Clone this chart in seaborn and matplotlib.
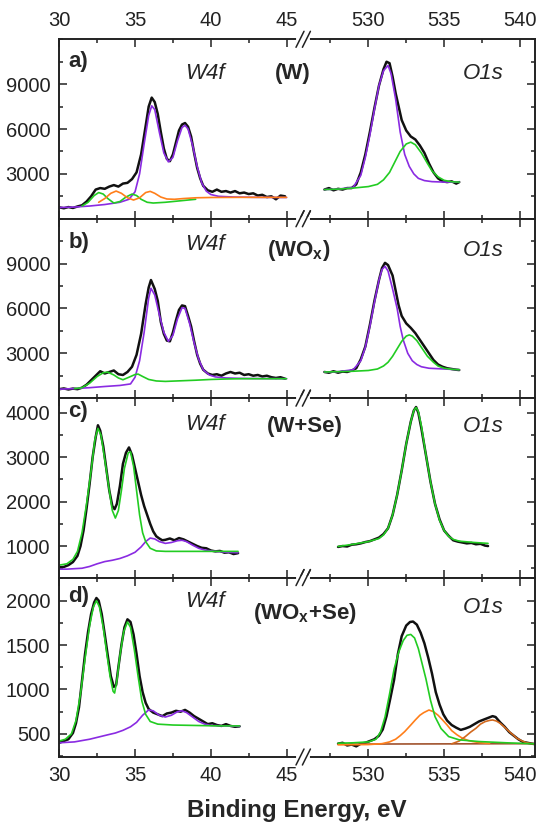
import numpy as np
import pandas as pd
import matplotlib
matplotlib.use("Agg")
import matplotlib.pyplot as plt
import seaborn as sns
from matplotlib.ticker import FixedLocator, MultipleLocator

sns.set_style("ticks")
plt.rcParams['font.family'] = ['Liberation Sans', 'DejaVu Sans']
plt.rcParams['mathtext.fontset'] = 'custom'
plt.rcParams['mathtext.rm'] = 'Liberation Sans'
plt.rcParams['mathtext.bf'] = 'Liberation Sans:bold'
plt.rcParams['mathtext.it'] = 'Liberation Sans:italic'

# ---------------- data (binding energy, eV ; intensity, counts) ----------------
# Panel a) W : W4f region
a_w_x = [30.0,30.3,30.6,30.9,31.2,31.5,31.8,32.1,32.4,32.7,33.0,33.3,33.6,33.9,34.2,34.5,34.8,35.1,35.4,35.7,
         35.9,36.1,36.3,36.5,36.7,36.9,37.1,37.3,37.5,37.7,37.9,38.1,38.3,38.5,38.7,38.9,39.1,39.3,39.5,39.8,
         40.1,40.4,40.7,41.0,41.3,41.6,41.9,42.2,42.5,42.8,43.1,43.4,43.7,44.0,44.3,44.6,44.9]
a_w_data = [760,700,780,720,820,900,1150,1500,1950,2050,2000,2150,2250,2150,2350,2400,2650,3100,4300,6200,
            7500,8100,7800,7000,5800,4700,4000,3850,4300,5100,5900,6300,6400,6150,5500,4400,3400,2700,2200,1900,
            1800,1950,1800,1850,1750,1850,1700,1750,1650,1700,1550,1600,1450,1500,1300,1550,1500]
a_w_purple_x = [30.0,31.0,32.0,33.0,34.0,34.6,35.0,35.3,35.6,35.9,36.1,36.3,36.6,36.9,37.2,37.5,37.8,38.1,38.3,
                38.5,38.8,39.1,39.4,39.7,40.0,40.5,41.5,43.0,45.0]
a_w_purple = [750,780,850,950,1100,1300,1800,3000,5000,6900,7550,7300,5800,4400,3800,4100,5200,6100,6250,
              6000,4900,3500,2400,1850,1620,1500,1450,1430,1420]
a_w_green_x = [31.5,31.9,32.3,32.6,32.9,33.2,33.6,34.0,34.4,34.8,35.1,35.4,35.8,36.2,37.0,38.0,39.0]
a_w_green = [850,1100,1550,1750,1650,1350,1050,1150,1450,1650,1550,1300,1100,1050,1100,1200,1300]
a_w_orange_x = [32.6,33.0,33.4,33.75,34.1,34.5,34.9,35.3,35.7,36.0,36.3,36.7,37.1,37.6,38.2,39.0,40.0,42.0,45.0]
a_w_orange = [1100,1350,1700,1850,1700,1400,1250,1400,1750,1830,1700,1450,1320,1300,1350,1400,1420,1430,1430]
# Panel a) W : O1s region
a_o_x = [527.1,527.4,527.7,528.0,528.3,528.6,528.9,529.2,529.5,529.8,530.1,530.4,530.7,531.0,531.2,531.4,531.6,
         531.8,532.0,532.2,532.5,532.8,533.1,533.4,533.7,534.0,534.3,534.6,534.9,535.2,535.5,535.8,536.0]
a_o_data = [1950,2050,1900,2000,1950,2050,2050,2300,3100,4300,5800,7400,8900,10000,10500,10400,9500,
            8400,7500,6600,5900,5500,5300,4900,4400,3700,3100,2700,2500,2450,2500,2350,2450]
a_o_purple_x = [527.1,528.0,529.0,529.5,529.8,530.1,530.4,530.7,531.0,531.3,531.5,531.8,532.1,532.4,532.7,
                533.0,533.3,533.7,534.2,535.0,536.0]
a_o_purple = [1950,1980,2100,2900,4100,5600,7300,8900,9900,10250,9700,8000,5800,4300,3500,3000,2700,2550,
              2480,2450,2450]
a_o_green_x = [527.1,528.0,529.0,530.0,530.6,531.0,531.4,531.8,532.1,532.5,532.8,533.1,533.5,533.9,534.2,
               534.6,535.0,535.5,536.0]
a_o_green = [1950,1980,2050,2150,2300,2600,3100,3900,4500,5000,5120,4950,4400,3700,3200,2800,2570,2470,2450]

# Panel b) WOx : W4f region
b_w_x = [30.0,30.3,30.6,30.9,31.2,31.5,31.8,32.1,32.4,32.7,33.0,33.3,33.6,33.9,34.2,34.5,34.8,35.1,35.4,35.7,
         35.9,36.05,36.3,36.5,36.7,36.9,37.1,37.3,37.5,37.7,37.9,38.1,38.3,38.5,38.7,38.9,39.1,39.3,39.5,39.8,
         40.1,40.4,40.7,41.0,41.3,41.6,41.9,42.2,42.5,42.8,43.1,43.4,43.7,44.0,44.3,44.6,44.9]
b_w_data = [600,650,580,640,600,700,900,1200,1500,1800,1650,1750,1850,1600,1550,1750,2100,2900,4300,6300,
            7400,7900,7300,6500,5100,4300,3850,3800,4400,5200,5900,6200,6150,5500,4800,3800,2900,2300,1900,1650,
            1550,1600,1500,1650,1750,1650,1700,1550,1600,1500,1550,1450,1500,1400,1350,1400,1300]
b_w_purple_x = [30.0,31.0,32.0,33.0,34.0,34.7,35.0,35.3,35.6,35.9,36.05,36.3,36.6,36.9,37.2,37.5,37.8,38.1,
                38.3,38.6,38.9,39.2,39.5,39.9,40.3,41.0,42.0,43.0,45.0]
b_w_purple = [600,640,700,780,850,950,1400,2500,4400,6700,7350,6900,5600,4400,3800,4200,5300,6050,
              6000,5000,3700,2600,1900,1550,1420,1350,1320,1310,1300]
b_w_green_x = [31.0,31.5,32.0,32.5,32.9,33.2,33.6,33.9,34.2,34.6,35.0,35.2,35.5,35.9,36.4,37.0,38.0,39.0,
               40.0,41.0,42.0,43.0,45.0]
b_w_green = [640,700,1000,1450,1700,1740,1550,1350,1230,1400,1580,1610,1450,1250,1150,1120,1160,1200,
             1250,1280,1300,1300,1300]
# Panel b) WOx : O1s region
b_o_x = [527.1,527.4,527.7,528.0,528.3,528.6,528.9,529.2,529.5,529.8,530.1,530.4,530.7,530.9,531.1,531.3,531.6,
         531.8,532.0,532.2,532.5,532.8,533.1,533.4,533.7,534.0,534.3,534.6,534.9,535.2,535.5,535.8,536.0]
b_o_data = [1750,1700,1800,1700,1780,1750,1850,2000,2600,3450,4900,6500,7900,8700,9050,8900,8200,
            7200,6200,5500,5000,4700,4350,3900,3450,3000,2550,2250,2100,2000,1950,1900,1880]
b_o_purple_x = [527.1,528.0,529.0,529.5,529.8,530.1,530.4,530.7,530.9,531.1,531.3,531.6,531.9,532.1,532.3,
                532.6,532.9,533.2,533.5,534.0,535.0,536.0]
b_o_purple = [1750,1770,1900,2500,3400,4800,6400,7900,8600,8820,8500,7300,6000,4800,3900,3000,2500,2250,
              2100,2000,1950,1900]
b_o_green_x = [527.1,528.0,529.0,530.0,530.6,531.0,531.3,531.6,531.9,532.2,532.5,532.7,532.9,533.2,533.5,
               533.9,534.3,534.6,535.0,535.5,536.0]
b_o_green = [1750,1770,1800,1850,1950,2150,2400,2800,3300,3800,4150,4230,4150,3850,3400,2800,2400,2150,
             2000,1930,1900]

# Panel c) W+Se : W4f region
c_w_x = [30.0,30.3,30.6,30.9,31.2,31.4,31.6,31.8,32.0,32.2,32.4,32.55,32.7,32.9,33.1,33.3,33.5,33.65,33.8,34.0,
         34.2,34.4,34.6,34.8,35.0,35.2,35.4,35.6,35.8,36.0,36.2,36.4,36.6,36.8,37.0,37.3,37.6,37.9,38.2,38.5,
         38.8,39.1,39.4,39.7,40.0,40.3,40.6,40.9,41.2,41.5,41.8]
c_w_data = [520,530,570,640,780,1000,1350,1850,2400,3000,3450,3720,3600,3250,2750,2250,1900,1830,1950,2350,
            2850,3100,3220,3050,2750,2450,2150,1900,1700,1500,1330,1220,1170,1130,1140,1170,1130,1180,1150,1100,
            1050,1000,960,950,900,880,890,850,860,820,840]
c_w_green_x = [30.0,30.5,30.9,31.2,31.5,31.8,32.1,32.35,32.55,32.75,33.0,33.3,33.5,33.7,33.9,34.1,34.3,34.55,
               34.7,34.9,35.1,35.3,35.5,35.7,36.0,36.4,37.0,38.0,39.0,40.0,41.0,41.8]
c_w_green = [570,600,700,880,1300,1950,2700,3400,3650,3500,2950,2250,1800,1630,1800,2250,2750,3100,
             3120,2800,2250,1700,1300,1100,950,890,880,880,880,880,880,880]
c_w_purple_x = [30.0,30.5,31.0,31.5,32.0,32.5,33.0,33.5,34.0,34.5,35.0,35.4,35.7,36.0,36.3,36.6,37.0,37.4,
                37.8,38.1,38.4,38.8,39.2,39.6,40.0,41.0,41.8]
c_w_purple = [480,480,490,500,540,600,650,680,720,780,860,980,1100,1180,1160,1100,1060,1080,
              1120,1130,1100,1020,950,910,890,860,850]
# Panel c) W+Se : O1s region
c_o_x = [528.0,528.3,528.6,528.9,529.2,529.5,529.8,530.1,530.4,530.7,531.0,531.3,531.6,531.9,532.2,532.5,532.8,
         533.0,533.15,533.3,533.5,533.8,534.1,534.4,534.7,535.0,535.3,535.6,535.9,536.2,536.5,536.8,537.1,537.4,
         537.7,537.9]
c_o_data = [980,1000,990,1030,1040,1060,1090,1110,1150,1190,1270,1400,1700,2150,2700,3300,3800,
            4050,4130,4000,3650,3050,2450,1950,1600,1350,1230,1130,1100,1080,1060,1070,1040,1050,
            1010,1000]
c_o_green_x = [528.0,529.0,530.0,530.7,531.0,531.3,531.6,531.9,532.2,532.5,532.8,533.0,533.15,533.3,533.5,
               533.8,534.1,534.4,534.7,535.0,535.3,535.6,536.0,537.0,537.9]
c_o_green = [990,1040,1100,1170,1250,1400,1700,2150,2700,3300,3800,4050,4120,4030,3700,
             3050,2450,1950,1580,1350,1220,1150,1110,1080,1060]

# Panel d) WOx+Se : W4f region
d_w_x = [30.0,30.3,30.6,30.9,31.1,31.3,31.5,31.7,31.9,32.1,32.3,32.45,32.6,32.8,33.0,33.2,33.4,33.6,33.75,33.9,
         34.1,34.3,34.5,34.7,34.9,35.1,35.3,35.5,35.7,35.9,36.2,36.5,36.8,37.1,37.4,37.7,38.0,38.3,38.6,38.9,
         39.2,39.5,39.8,40.1,40.4,40.7,41.0,41.3,41.6,41.9]
d_w_data = [400,420,440,510,620,800,1100,1400,1650,1850,1980,2030,2000,1850,1620,1380,1150,1030,1050,1250,
            1500,1700,1790,1760,1620,1400,1150,970,850,780,740,720,700,730,740,760,750,770,740,700,
            670,640,610,620,600,590,610,590,580,585]
d_w_green_x = [30.0,30.4,30.8,31.1,31.4,31.7,32.0,32.25,32.45,32.65,32.9,33.1,33.35,33.55,33.65,33.8,34.0,
               34.25,34.5,34.7,34.95,35.2,35.45,35.7,36.0,36.5,37.5,39.0,40.5,41.9]
d_w_green = [420,440,500,650,950,1350,1720,1930,2000,1930,1700,1450,1150,980,960,1100,1380,
             1650,1760,1700,1450,1150,870,720,640,610,600,595,590,590]
d_w_purple_x = [30.0,31.0,32.0,32.6,33.2,33.7,34.2,34.7,35.1,35.5,35.9,36.2,36.6,37.0,37.4,37.8,38.1,38.4,
                38.8,39.2,39.6,40.0,41.0,41.9]
d_w_purple = [400,410,440,465,490,510,540,580,630,710,770,760,710,690,710,750,760,740,
              690,640,610,595,590,585]
# Panel d) WOx+Se : O1s region
d_o_x = [528.0,528.3,528.6,528.9,529.2,529.5,529.8,530.1,530.4,530.7,530.95,531.2,531.45,531.7,531.95,532.2,
         532.5,532.75,532.95,533.2,533.45,533.7,533.95,534.2,534.45,534.7,534.95,535.2,535.5,535.8,536.1,536.4,
         536.7,537.0,537.3,537.6,537.9,538.2,538.4,538.7,539.0,539.3,539.6,539.9,540.2,540.5,540.8,541.0]
d_o_data = [390,400,370,380,360,390,400,420,440,480,550,700,900,1110,1400,1600,
            1720,1760,1765,1730,1640,1520,1360,1180,970,830,720,650,600,570,545,560,
            580,610,640,660,680,700,690,630,580,520,480,440,410,400,390,385]
d_o_green_x = [528.0,529.0,530.0,530.5,530.8,531.1,531.4,531.7,532.0,532.3,532.55,532.8,533.05,533.3,533.55,
               533.8,534.1,534.4,534.8,535.3,536.0,537.3,539.1,541.0]
d_o_green = [395,400,410,440,520,690,950,1230,1420,1550,1610,1620,1580,1460,1290,
             1120,880,694,560,470,433,414,400,388]
d_o_orange_x = [528.0,530.0,530.9,531.4,531.8,532.1,532.4,532.8,533.1,533.4,533.65,534.0,534.3,534.6,534.9,
                535.2,535.5,535.85,536.2,536.6,536.9,537.4,538.0]
d_o_orange = [377,380,390,410,440,480,526,600,657,710,739,769,750,710,657,
              600,537,490,452,425,414,400,392]
d_o_orange2_x = [535.5,536.0,536.4,536.75,537.1,537.4,537.7,538.0,538.2,538.45,538.7,539.0,539.3,539.55,
                 539.8,540.1,540.4,540.7,541.0]
d_o_orange2 = [388,420,470,520,563,610,638,652,657,645,619,575,526,490,452,425,403,392,388]
d_o_base_x = [528.0, 541.0]
d_o_base = [385, 390]

# tick labels
x_major = [30, 35, 40, 45, 530, 535, 540]
x_minor = [32.5, 37.5, 42.5, 527.5, 532.5, 537.5]

# ---------------- broken-axis transform ----------------
BREAK_LO, BREAK_HI = 46.1, 525.7
SHIFT = BREAK_HI - BREAK_LO


def tx(x):
    x = np.asarray(x, dtype=float)
    return np.where(x > 100, x - SHIFT, x)


BLACK, PURPLE, GREEN = "#111111", "#8a2be2", "#22cc22"
ORANGE, ORANGE2, BROWN = "#ff7f1a", "#d2691e", "#a0522d"

panels = [
    dict(tag="a)", ylim=(0, 12000), major=[3000, 6000, 9000], minor=1500,
         curves=[(a_w_x, a_w_data, BLACK, 1.8), (a_o_x, a_o_data, BLACK, 1.8),
                 (a_w_purple_x, a_w_purple, PURPLE, 1.2), (a_w_green_x, a_w_green, GREEN, 1.2),
                 (a_w_orange_x, a_w_orange, ORANGE, 1.2),
                 (a_o_purple_x, a_o_purple, PURPLE, 1.2), (a_o_green_x, a_o_green, GREEN, 1.2)],
         tag_y=10500, w4f_y=9700, name="(W)", name_x=45.4, name_y=9700, o1s_y=9700),
    dict(tag="b)", ylim=(0, 12000), major=[3000, 6000, 9000], minor=1500,
         curves=[(b_w_x, b_w_data, BLACK, 1.8), (b_o_x, b_o_data, BLACK, 1.8),
                 (b_w_purple_x, b_w_purple, PURPLE, 1.2), (b_w_green_x, b_w_green, GREEN, 1.2),
                 (b_o_purple_x, b_o_purple, PURPLE, 1.2), (b_o_green_x, b_o_green, GREEN, 1.2)],
         tag_y=10400, w4f_y=10300, name=r"(WO$_{\mathbf{x}}$)", name_x=45.8, name_y=9850, o1s_y=9850),
    dict(tag="c)", ylim=(290, 4330), major=[1000, 2000, 3000, 4000], minor=500,
         curves=[(c_w_x, c_w_data, BLACK, 1.8), (c_o_x, c_o_data, BLACK, 1.8),
                 (c_w_purple_x, c_w_purple, PURPLE, 1.2), (c_w_green_x, c_w_green, GREEN, 1.2),
                 (c_o_green_x, c_o_green, GREEN, 1.2)],
         tag_y=4020, w4f_y=3740, name="(W+Se)", name_x=46.2, name_y=3700, o1s_y=3700),
    dict(tag="d)", ylim=(240, 2260), major=[500, 1000, 1500, 2000], minor=250,
         curves=[(d_w_x, d_w_data, BLACK, 1.8), (d_o_x, d_o_data, BLACK, 1.8),
                 (d_w_purple_x, d_w_purple, PURPLE, 1.2), (d_w_green_x, d_w_green, GREEN, 1.2),
                 (d_o_base_x, d_o_base, BROWN, 1.2), (d_o_orange_x, d_o_orange, ORANGE, 1.2),
                 (d_o_orange2_x, d_o_orange2, ORANGE2, 1.2), (d_o_green_x, d_o_green, GREEN, 1.2)],
         tag_y=2050, w4f_y=1990, name=r"(WO$_{\mathbf{x}}$+Se)", name_x=46.2, name_y=1850, o1s_y=1920),
]

W, H = 550, 834
fig = plt.figure(figsize=(W / 100, H / 100), dpi=100)
left_px, right_px, top_px, bot_px = 59.3, 535.0, 39.3, 757.0
ph = (bot_px - top_px) / 4
FS_TICK = 14.5
FS_TXT = 16

for i, p in enumerate(panels):
    t = top_px + i * ph
    ax = fig.add_axes([left_px / W, 1 - (t + ph) / H, (right_px - left_px) / W, ph / H])
    for xs, ys, col, lw in p["curves"]:
        sns.lineplot(x=tx(xs), y=np.asarray(ys, float), ax=ax, color=col, lw=lw,
                     sort=False, estimator=None, legend=False)
    ax.set_xlim(30, 541.0 - SHIFT)
    ax.set_ylim(*p["ylim"])
    ax.xaxis.set_major_locator(FixedLocator(tx(x_major)))
    ax.xaxis.set_minor_locator(FixedLocator(tx(x_minor)))
    ax.set_xticklabels([str(v) for v in x_major])
    ax.yaxis.set_major_locator(FixedLocator(p["major"]))
    ax.yaxis.set_minor_locator(MultipleLocator(p["minor"]))
    ax.set_xlabel("")
    ax.set_ylabel("")
    ax.tick_params(axis="both", which="both", direction="in", top=True, right=True,
                   labelsize=FS_TICK, width=1.1, colors="#222222")
    ax.tick_params(axis="both", which="major", length=6, pad=6.5)
    ax.tick_params(axis="both", which="minor", length=3)
    ax.tick_params(axis="x", labelbottom=(i == 3), labeltop=(i == 0))
    for s in ax.spines.values():
        s.set_linewidth(1.4)
        s.set_color("#222222")

    ax.text(tx(30.6), p["tag_y"], p["tag"], fontsize=FS_TXT, fontweight="bold", ha="left", va="center")
    ax.text(39.6, p["w4f_y"], "W4f", fontsize=FS_TXT, style="italic", ha="center", va="center")
    ax.text(p["name_x"], p["name_y"], p["name"], fontsize=FS_TXT, fontweight="bold", ha="center", va="center")
    ax.text(float(tx(537.6)), p["o1s_y"], "O1s", fontsize=FS_TXT, style="italic", ha="center", va="center")

    # axis-break marks on top and bottom spines
    wpx = right_px - left_px
    xf = (BREAK_LO - 30) / (541.0 - SHIFT - 30)
    for yf in (0.0, 1.0):
        ax.plot([xf - 5 / wpx, xf + 5 / wpx], [yf, yf], color="white", lw=3,
                transform=ax.transAxes, clip_on=False, zorder=5)
        for off in (-3.2, 3.2):
            xc = xf + off / wpx
            ax.plot([xc - 4 / wpx, xc + 4 / wpx], [yf - 8 / ph, yf + 8 / ph], color="#222222",
                    lw=1.1, transform=ax.transAxes, clip_on=False, zorder=6)

fig.text(297 / W, 1 - 811 / H, "Binding Energy, eV", fontsize=17.4, fontweight="bold",
         ha="center", va="center")

fig.savefig("out.png", dpi=100)
